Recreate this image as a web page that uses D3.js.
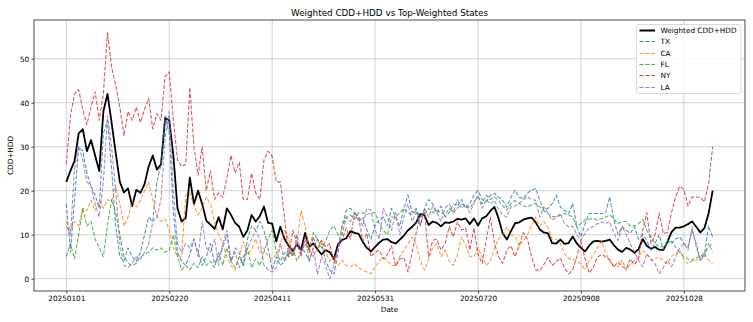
<!DOCTYPE html>
<html><head><meta charset="utf-8">
<script src="https://cdn.jsdelivr.net/npm/d3@7"></script>
<style>
body{margin:0;background:#fff}
svg{display:block}
text{font-family:"DejaVu Sans",sans-serif;fill:#000}
</style>
</head><body>
<svg id="c" width="753" height="322"></svg>
<script>
// ---- data (values every 2 days, starting 2025-01-01) ----
const startDate = "20250101";
const stepDays = 2;
const tickLabels = ["20250101","20250220","20250411","20250531","20250720","20250908","20251028"];
const yTicks = [0,10,20,30,40,50];
const seriesNames = ["Weighted CDD+HDD","TX","CA","FL","NY","LA"];
const seriesColors = ["#000000","#1f77b4","#ff7f0e","#2ca02c","#d62728","#9467bd"];

const weighted = [
22,24.5,26.8,33,34,29,31.5,28,24.5,38,
42,35.5,28.6,22,19.6,20.5,16.5,20.2,19.5,21.5,
25.5,28,24.8,26,36.5,36,28,16,13,13.8,
23,17,20,17,13.2,12.3,11.3,14,11.2,16,
14.5,12.7,11.8,9.5,11,14.5,13,14.2,16.4,12.7,
12.5,8.5,11.8,9,7.5,6.3,7.8,6.5,10.4,7.3,
8,6.7,5.5,6.5,6,4.5,7.8,8.8,9.2,10.8,
10.4,10.2,8.4,7,6.2,7.2,8.2,8.9,9,8.3,
8,8.9,9.8,11,11.8,12.8,14.7,14.4,12.2,13,
12.7,11.9,12.8,12.7,13,13.6,13.4,13.7,12.4,13.7,
12.1,13.7,14.2,15.4,16.3,13.7,10.3,8.9,10.8,12.6,
12.8,13.4,13.7,13.9,12.8,11.2,10.5,10.3,8.1,8,
8.9,7.9,8.1,9.6,8,7,6.2,7.5,8.5,8.6,
8.4,8.6,8.9,7.6,6.6,6.1,7,6.6,5.9,6.7,
9,7.5,6.8,7.2,6.6,6.5,8.3,10.6,11.6,11.6,
11.9,12.4,13,11.8,10.5,11.5,14.8,20];

const tx = [
17,6,18,30,29,24,21,19,16,33,
36,25,12,5,4,7,5,4,6,10,
14,13,22,26,37,33,15,6,4,3,
5.5,9,6,3,5,8,3.5,5,7,10,
4,7,6,3,9,12,11,13,11,7,
2,5,3,4,6,5.5,8,7,6,4,
7,9,8,4,2,1,6,12,15.5,16,
15,13,14,11,9,12,13.5,14,12,16,
14,12,16,19,15,16,12,16,18,17,
15,16.5,14,15,17,16.5,18,16,17,19,
20,18,17.5,19,19.4,18.5,17.8,16.3,18.5,20.1,
18.5,18.2,19.4,20.2,20.5,17.8,15.6,16,17,19,
16.3,15.5,14.8,17.1,11.8,9.5,12.5,14.8,14.8,14.8,
14.8,15,18.6,13.3,10,11.8,11,10.3,11.8,9,
10,8.7,6.5,8,10,6.5,8.7,8,9,9.5,
8,7.2,11,8,4.2,5.5,12,9.5];

const ca = [
13,11,13,12,16,15.5,17.8,15.5,17.8,16,
18,17.5,21,17,12,14,17.5,16.3,17.8,20,
22,18,14,13,13.5,11,7,5,5,19,
19.5,16.5,14.5,16,18.5,17,13,10,8,5,
3,2,5,8.5,5.5,6.5,9,6,7,5,
4.5,5.5,8,11,9,5,8,15.5,12,6.5,
5,7,8.7,6,4,5,3,4.2,3,2.7,
3.4,2.5,2,1.5,1.1,2.7,4,4.9,4,3,
3,5,6.5,8,9.5,8,4,2,4.5,7,
8,5,6.5,4,3,5.5,9.5,7.5,5,5,
7,5,3,4,7,9,10,11.8,10,9.5,
7.5,8.5,10,12,14,12,13,11.5,9,9,
8,5.7,4.5,4.5,4,3.4,2,4,5.5,7,
8.5,6,4,2.7,2.7,4.2,1.9,3.4,4,4.9,
6.5,5.5,4.2,4.5,4.9,4,3.4,5,5.7,6.5,
4.5,3.4,4,4.2,4.9,5.7,4.2,3.4];

const fl = [
5,8,4.5,10,16,12,13,9,7,5,
12,18,15,10,5,3.5,3,3.5,5,5.5,
6,7,6.5,7,6,6.5,10,5,2,3,
2,3.5,2.5,5,3,4,2.5,6,3,7,
4,2.5,5,3,7,2.5,4.5,3,6,9,
11,6,4,6,5,7,4,6,8,6.5,
10.5,9,7,8.5,11,12,10,10,14,14.5,
13.5,15,15,14.5,15,15,12.5,11,10,14,
14,15,16,15,14.5,15.5,14,14.5,16,15,
15.5,15,14.5,16,15,16,17,16.5,16,17.5,
18.5,17,19,18,18.6,17.8,16.5,15.6,17,17.8,
17.1,16.5,16.3,16.8,17.1,16.3,15.5,14.8,14.2,14,
14.4,14.8,14.5,14,11.8,12.5,13.3,13.5,13.7,13.3,
13.7,14,14.5,13.5,12.5,13,13,12,12,12.5,
13.5,11,9.5,8,7.2,7.2,8,8.5,7.2,6,
5,4.5,4.2,4.8,5,6,7.2,8];

const ny = [
26,37,42,43,38.5,35,39,42.5,36,42,
56,48,44,39,32.5,38,36,39,35.5,38.5,
41,34,37.5,36,46,47,36,27,25.5,26,
43.5,30,23.5,30,20,24.5,18,19.5,18.5,23,
28,24,26.5,18,18,24,19.5,18,27,29,
27.8,22,22,14,5,11,8.5,5,9.5,6,
9.5,6.3,8.7,7.2,8,3.5,7.2,9,11.5,9,
14.8,14,8.5,10.3,5,6,6.5,4.5,5.5,7.5,
2.8,4.5,4.8,1.5,6,10.5,14.5,15,5,8.7,
9,6.5,8,11.8,9.5,12.9,11,11.5,6.5,11.5,
5.5,3.5,8.7,14,8,5,3.5,6.5,7.5,5,
7.5,10.5,9,5,2,1.8,3.2,4.8,3,3.8,
4.7,2.5,1.1,2,5,8.5,4.5,1.3,2.5,4.9,
5.5,5,4.3,2.7,3.8,2.8,2.2,4.5,3.2,4.5,
11,15,8,10,15,10.3,10.5,15,18.6,21,
20.3,16.5,18.6,18.5,18.5,17.5,21.6,30];

const la = [
12,10,25,30,27,22,21,17,14,22,
37,30,20,8,3,2.5,3.5,5,4.5,6,
8,13,14,18,32,38,20,8,6,8,
7,9,5,13,7,6,9,3,8,11,
4,6,2.5,5,7,9,11,9,3,2,
1.5,2.5,8,4,7,5,10,6,9,4,
7,1,5,3,0,3,7,12,14,13,
15,14,12,16,15.5,11,9,16,14,11,
15,10,14,17,13,15,12,16,14,16.5,
15,13,16,17,15,18,16,17,15,17,
19,16,18,17,17.8,15.6,14.5,14,16.3,16.5,
17.1,18,18.6,18,17.8,14,16.3,15,13.3,14,
14.8,12.5,11.8,12,10,8.7,10.3,11.5,11.8,12.5,
12.9,12.5,13,10.3,8.7,11.8,10,8,6,4.2,
2.7,5.7,4.5,3.4,1.1,2.5,4.2,2.7,4.9,7,
8,6.5,11.8,7.2,4.2,4.9,8,6];

// ---- chart ----
const W = 753, H = 322;
const M = {left:34, right:745, top:20, bottom:291};
const parse = d3.timeParse("%Y%m%d");
const t0 = parse(startDate);
const allSeries = [weighted, tx, ca, fl, ny, la];
const nPts = weighted.length;
const dayIdx = d3.range(nPts).map(i => i * stepDays);
const lastDay = dayIdx[nPts - 1];

const xPad = lastDay * 0.05;
const x = d3.scaleLinear().domain([-xPad, lastDay + xPad]).range([M.left, M.right]);
const allVals = allSeries.flat();
const yMin = d3.min(allVals), yMax = d3.max(allVals);
const yPad = (yMax - yMin) * 0.05;
const y = d3.scaleLinear().domain([yMin - yPad, yMax + yPad]).range([M.bottom, M.top]);

const svg = d3.select("#c");
svg.append("rect").attr("width", W).attr("height", H).attr("fill", "#fff");

const tickDays = tickLabels.map(s => d3.timeDay.count(t0, parse(s)));

// grid
const grid = svg.append("g");
grid.selectAll("line.v").data(tickDays).join("line")
  .attr("x1", d => x(d)).attr("x2", d => x(d))
  .attr("y1", M.top).attr("y2", M.bottom)
  .attr("stroke", "#b0b0b0").attr("stroke-width", 0.8).attr("stroke-opacity", 0.7);
grid.selectAll("line.h").data(yTicks).join("line")
  .attr("y1", d => y(d)).attr("y2", d => y(d))
  .attr("x1", M.left).attr("x2", M.right)
  .attr("stroke", "#b0b0b0").attr("stroke-width", 0.8).attr("stroke-opacity", 0.7);

// clip
svg.append("clipPath").attr("id", "clip").append("rect")
  .attr("x", M.left).attr("y", M.top).attr("width", M.right - M.left).attr("height", M.bottom - M.top);

const line = d3.line().x((d, i) => x(dayIdx[i])).y(d => y(d));
const plot = svg.append("g").attr("clip-path", "url(#clip)");
allSeries.forEach((s, k) => {
  plot.append("path").datum(s)
    .attr("d", line)
    .attr("fill", "none")
    .attr("stroke", seriesColors[k])
    .attr("stroke-width", k === 0 ? 1.8 : 1.05)
    .attr("stroke-opacity", k === 0 ? 1 : 0.8)
    .attr("stroke-dasharray", k === 0 ? null : "4,1.8")
    .attr("stroke-linejoin", "round");
});

// axes
const xAxis = d3.axisBottom(x).tickValues(tickDays).tickFormat((d, i) => tickLabels[i])
  .tickSize(2.6).tickPadding(1.8);
const gx = svg.append("g").attr("transform", `translate(0,${M.bottom})`).call(xAxis);
gx.select(".domain").remove();
gx.selectAll("text").style("font-size", "7.3px").style("font-family", "DejaVu Sans");
gx.selectAll("line").attr("stroke", "#000").attr("stroke-width", 0.7);

const yAxis = d3.axisLeft(y).tickValues(yTicks).tickFormat(d3.format("d")).tickSize(2.6).tickPadding(2.2);
const gy = svg.append("g").attr("transform", `translate(${M.left},0)`).call(yAxis);
gy.select(".domain").remove();
gy.selectAll("text").style("font-size", "7.3px").style("font-family", "DejaVu Sans");
gy.selectAll("line").attr("stroke", "#000").attr("stroke-width", 0.7);

// frame
svg.append("rect").attr("x", M.left).attr("y", M.top)
  .attr("width", M.right - M.left).attr("height", M.bottom - M.top)
  .attr("fill", "none").attr("stroke", "#222").attr("stroke-width", 0.8);

// labels
svg.append("text").attr("x", (M.left + M.right) / 2).attr("y", 15.6)
  .attr("text-anchor", "middle").style("font-size", "8.8px").text("Weighted CDD+HDD vs Top-Weighted States");
svg.append("text").attr("x", (M.left + M.right) / 2).attr("y", 312)
  .attr("text-anchor", "middle").style("font-size", "7.3px").text("Date");
svg.append("text").attr("transform", `translate(12.5,${(M.top + M.bottom) / 2}) rotate(-90)`)
  .attr("text-anchor", "middle").style("font-size", "7.3px").text("CDD+HDD");

// legend
const lg = svg.append("g");
lg.append("rect").attr("x", 636.5).attr("y", 24.5).attr("width", 104.5).attr("height", 69)
  .attr("rx", 2).attr("fill", "#fff").attr("fill-opacity", 0.85)
  .attr("stroke", "#d0d0d0").attr("stroke-width", 0.8);
seriesNames.forEach((name, k) => {
  const yy = Math.round(30 + k * 11.3) + 0.5;
  lg.append("line").attr("x1", 639.5).attr("x2", 655).attr("y1", yy).attr("y2", yy)
    .attr("stroke", seriesColors[k])
    .attr("stroke-width", k === 0 ? 2 : 1)
    .attr("stroke-opacity", k === 0 ? 1 : 0.85)
    .attr("stroke-dasharray", k === 0 ? null : "4,1.8");
  lg.append("text").attr("x", 660.5).attr("y", yy + 2.4).style("font-size", "7.3px").text(name);
});
</script>
</body></html>
